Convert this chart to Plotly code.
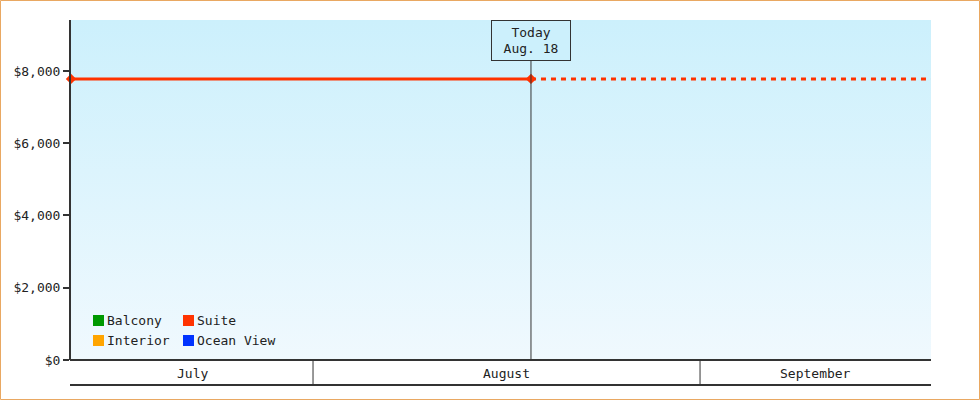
import base64
import pandas as pd
import plotly.graph_objects as go

# ---- data ----
suite_dates = ["2024-07-12 14:45", "2024-08-18 11:00"]
suite_prices = [7780, 7780]
projection_dates = ["2024-08-18 11:00", "2024-09-19 12:00"]
projection_prices = [7780, 7780]
today_date = "2024-08-18 11:00"
today_label = "Today<br>Aug. 18"
month_starts = ["2024-08-01", "2024-09-01"]
month_labels = ["July", "August", "September"]
y_ticks = [0, 2000, 4000, 6000, 8000]
y_tick_labels = ["$0", "$2,000", "$4,000", "$6,000", "$8,000"]
y_max = 9410
legend_names = ["Balcony", "Interior", "Suite", "Ocean View"]
legend_colors = ["#009900", "#ffa500", "#ff3300", "#0033ff"]

FONT = "DejaVu Sans Mono"
W, H = 980, 400
ML, MR, MT, MB = 71, 49, 20, 40
PW, PH = W - ML - MR, H - MT - MB


def px_x(px):
    return (px - ML) / PW


def px_y(py):
    return (H - MB - py) / PH


x_start = suite_dates[0]
x_end = projection_dates[-1]

fig = go.Figure()

fig.add_trace(go.Scatter(
    x=suite_dates, y=suite_prices, mode="lines+markers", name="Suite",
    line=dict(color="#ff3300", width=3),
    marker=dict(symbol="diamond", size=8, color="#ff3300"),
    cliponaxis=False, showlegend=False, hoverinfo="skip"))
fig.add_trace(go.Scatter(
    x=projection_dates, y=projection_prices, mode="lines", name="Suite projection",
    line=dict(color="#ff3300", width=3, dash="5px,5px"),
    showlegend=False, hoverinfo="skip"))

# gradient background
svg = ('<svg xmlns="http://www.w3.org/2000/svg" width="100" height="100" '
       'viewBox="0 0 100 100" preserveAspectRatio="none">'
       '<defs><linearGradient id="g" x1="0" y1="0" x2="0" y2="1">'
       '<stop offset="0" stop-color="#ccf0fc"/><stop offset="1" stop-color="#f0f9fe"/>'
       '</linearGradient></defs><rect width="100" height="100" fill="url(#g)"/></svg>')
src = "data:image/svg+xml;base64," + base64.b64encode(svg.encode()).decode()
images = [dict(source=src, xref="paper", yref="paper", x=0, y=1, sizex=1, sizey=1,
               sizing="stretch", xanchor="left", yanchor="top", layer="below")]

shapes = []
annotations = []
dark = "#333333"

# today line
shapes.append(dict(type="line", xref="x", yref="paper", x0=today_date, x1=today_date,
                   y0=0, y1=px_y(61), line=dict(color=dark, width=1)))
annotations.append(dict(x=today_date, xref="x", y=1, yref="paper", yanchor="top",
                        xanchor="center", text=today_label, showarrow=False,
                        font=dict(family=FONT, size=13, color="#222"),
                        bgcolor="#ccf0fc", bordercolor=dark, borderwidth=1,
                        borderpad=2, width=74, height=35))

# month bar
shapes.append(dict(type="line", xref="paper", yref="paper", x0=px_x(70), x1=1,
                   y0=0, y1=0, line=dict(color=dark, width=2)))
shapes.append(dict(type="line", xref="paper", yref="paper", x0=px_x(70), x1=1,
                   y0=px_y(385), y1=px_y(385), line=dict(color=dark, width=2)))
for ms in month_starts:
    shapes.append(dict(type="line", xref="x", yref="paper", x0=ms, x1=ms,
                       y0=px_y(385), y1=0, line=dict(color=dark, width=1)))
bounds = [pd.Timestamp(x_start)] + [pd.Timestamp(m) for m in month_starts] + [pd.Timestamp(x_end)]
for i, lab in enumerate(month_labels):
    mid = bounds[i] + (bounds[i + 1] - bounds[i]) / 2
    annotations.append(dict(x=mid, xref="x", y=px_y(373), yref="paper", text=lab,
                            showarrow=False, xanchor="center", yanchor="middle",
                            font=dict(family=FONT, size=13, color="#222")))

# legend (2 columns)
col_x = [93, 183]
row_y = [315, 335]
for i, (name, color) in enumerate(zip(legend_names, legend_colors)):
    cx = col_x[i // 2]
    ry = row_y[i % 2]
    shapes.append(dict(type="rect", xref="paper", yref="paper",
                       x0=px_x(cx), x1=px_x(cx + 11), y0=px_y(ry + 11), y1=px_y(ry),
                       fillcolor=color, line=dict(width=0)))
    annotations.append(dict(x=px_x(cx + 12), xref="paper", y=px_y(ry + 5.5), yref="paper",
                            text=name, showarrow=False, xanchor="left", yanchor="middle",
                            font=dict(family=FONT, size=13, color="#222")))

# outer border
shapes.append(dict(type="rect", xref="paper", yref="paper",
                   x0=px_x(0.5), x1=px_x(W - 0.5), y0=px_y(H - 0.5), y1=px_y(0.5),
                   line=dict(color="#e9a862", width=1), fillcolor="rgba(0,0,0,0)"))

fig.update_layout(
    width=W, height=H,
    margin=dict(l=ML, r=MR, t=MT, b=MB, pad=0),
    paper_bgcolor="white", plot_bgcolor="rgba(0,0,0,0)",
    font=dict(family=FONT, size=13, color="#222"),
    images=images, shapes=shapes, annotations=annotations,
    showlegend=False,
    xaxis=dict(type="date", range=[x_start, x_end], showticklabels=False,
               showgrid=False, zeroline=False, ticks="", showline=False, fixedrange=True),
    yaxis=dict(range=[0, y_max], tickmode="array", tickvals=y_ticks, ticktext=y_tick_labels,
               showgrid=False, zeroline=False, showline=True, linecolor=dark, linewidth=2,
               ticks="outside", ticklen=6, tickwidth=2, tickcolor=dark,
               tickfont=dict(family=FONT, size=13, color="#222"), fixedrange=True),
)

fig.write_html("out.html", config={"displayModeBar": False},
               post_script="document.body.style.margin='0px';document.body.style.overflow='hidden';")
